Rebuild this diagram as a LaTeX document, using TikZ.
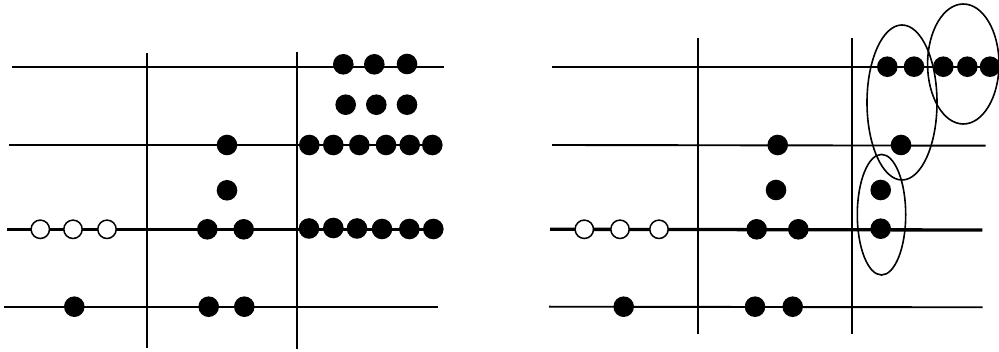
\documentclass[tikz,border=0pt]{standalone}
\usetikzlibrary{shapes.geometric}
\begin{document}
\begin{tikzpicture}[x=1pt,y=-1pt,
  thinln/.style={line width=1.9pt},
  thickln/.style={line width=3.3pt},
  fdot/.style={circle,fill=black,inner sep=0pt,minimum size=20.6pt},
  odot/.style={circle,draw=black,fill=white,line width=1.5pt,inner sep=0pt,minimum size=18.4pt},
  ring/.style={ellipse,draw=black,line width=1.6pt,inner sep=0pt}]
\useasboundingbox (0,0) rectangle (999,352);
% ---------------- left panel ----------------
\draw[thinln] (12,66.7) -- (444,66.7);
\draw[thinln] (9,145) -- (440,145);
\draw[thickln] (7,229.3) -- (440,229.3);
\draw[thinln] (4,306.7) -- (438,306.7);
\draw[thinln] (146.7,53) -- (146.7,348);
\draw[thinln] (297.3,52) -- (297.3,349);
% row 1
\node[fdot] (la1) at (343.3,64.3) {};
\node[fdot] (la2) at (374.3,64.3) {};
\node[fdot] (la3) at (407,64) {};
\node[fdot] (lb1) at (345.7,104.7) {};
\node[fdot] (lb2) at (376.3,104.7) {};
\node[fdot] (lb3) at (407,104.7) {};
% row 2
\node[fdot] (lc0) at (227,145) {};
\node[fdot] (lc1) at (309.3,145) {};
\node[fdot] (lc2) at (333.3,145) {};
\node[fdot] (lc3) at (359.3,145) {};
\node[fdot] (lc4) at (386,145) {};
\node[fdot] (lc5) at (409.7,145) {};
\node[fdot] (lc6) at (432.3,145) {};
\node[fdot] (ld0) at (227,190.3) {};
% row 3
\node[odot] (lo1) at (40.3,229.3) {};
\node[odot] (lo2) at (73,229.3) {};
\node[odot] (lo3) at (107,229.3) {};
\node[fdot] (le1) at (207.3,229.3) {};
\node[fdot] (le2) at (243.7,229.3) {};
\node[fdot] (lf1) at (309,228.5) {};
\node[fdot] (lf2) at (333.3,228) {};
\node[fdot] (lf3) at (357,228.5) {};
\node[fdot] (lf4) at (382,229) {};
\node[fdot] (lf5) at (409.3,229) {};
\node[fdot] (lf6) at (433.3,229) {};
% row 4
\node[fdot] (lg1) at (74.3,306.7) {};
\node[fdot] (lg2) at (208.7,306.7) {};
\node[fdot] (lg3) at (244.3,306.7) {};
% ---------------- right panel ----------------
\draw[thinln] (551.7,66.7) -- (999,66.7);
\draw[thinln] (552,145) -- (985.7,145.7);
\draw[thickln] (550,229.3) -- (982.3,230);
\draw[thinln] (549,306.7) -- (982.7,307.3);
\draw[thinln] (698.3,37.7) -- (698.3,334.3);
\draw[thinln] (851.7,37.7) -- (851.7,334.3);
\node[fdot] (ra1) at (887.3,66.7) {};
\node[fdot] (ra2) at (914,66.7) {};
\node[fdot] (ra3) at (943.3,66.7) {};
\node[fdot] (ra4) at (967.3,66.7) {};
\node[fdot] (ra5) at (990,66.7) {};
\node[fdot] (rc0) at (777.7,145) {};
\node[fdot] (rc1) at (901,145) {};
\node[fdot] (rd0) at (776,190) {};
\node[fdot] (rd1) at (880.7,190) {};
\node[odot] (ro1) at (584.3,229.3) {};
\node[odot] (ro2) at (620,229.3) {};
\node[odot] (ro3) at (659,229.3) {};
\node[fdot] (re1) at (756.7,229.3) {};
\node[fdot] (re2) at (798.3,229.3) {};
\node[fdot] (re3) at (880.7,228.7) {};
\node[fdot] (rg1) at (623.7,306.7) {};
\node[fdot] (rg2) at (755,306.7) {};
\node[fdot] (rg3) at (792.7,306.7) {};
% ellipses
\node[ring,minimum width=70pt,minimum height=155pt] (e1) at (902,102.5) {};
\node[ring,minimum width=71.4pt,minimum height=120pt] (e2) at (963.3,64) {};
\node[ring,minimum width=48.4pt,minimum height=120.6pt] (e3) at (881.5,214.7) {};
\end{tikzpicture}
\end{document}
